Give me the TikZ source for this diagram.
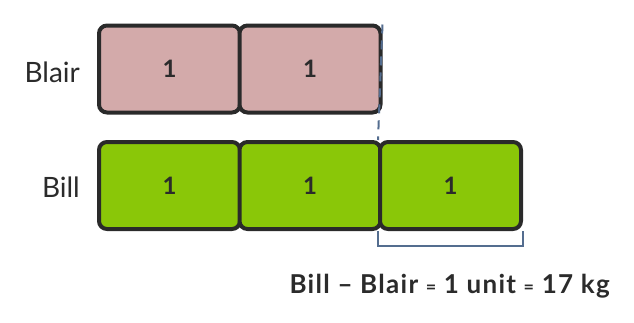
\documentclass[tikz,border=0pt]{standalone}
\usepackage{fontspec}
\setmainfont{Lato}
\begin{document}
\begin{tikzpicture}[x=1pt,y=-1pt,
  unitbox/.style={draw=boxline,line width=4pt,rounded corners=8pt,minimum width=141pt,minimum height=87pt,inner sep=0pt,font=\fontsize{24}{26}\selectfont\bfseries,text=textdark},
  pinkbox/.style={unitbox,fill=pinkfill},
  greenbox/.style={unitbox,fill=greenfill},
  rowlabel/.style={anchor=east,inner sep=0pt,font=\fontsize{28}{30}\selectfont,text=textdark},
  guide/.style={draw=guidecol,line width=2pt}]
\definecolor{boxline}{HTML}{2A2A2A}
\definecolor{pinkfill}{HTML}{D3AAAA}
\definecolor{greenfill}{HTML}{8AC708}
\definecolor{textdark}{HTML}{2B2B2B}
\definecolor{guidecol}{HTML}{546D8F}
\useasboundingbox (0,0) rectangle (634,322);
\node[pinkbox] (a1) at (169.5,69) {1};
\node[pinkbox] (a2) at (310,69) {1};
\node[greenbox] (b1) at (169.5,185.5) {1};
\node[greenbox] (b2) at (310,185.5) {1};
\node[greenbox] (b3) at (450.5,185.5) {1};
\node[rowlabel] (la) at (80,72) {Blair};
\node[rowlabel] (lb) at (80,187) {Bill};
\draw[guide,dash pattern=on 9pt off 7pt] ([yshift=-1pt]a2.north east) -- (b3.north west);
\draw[guide] (b3.south west) -- ++(0,15) -| (b3.south east);
\node[anchor=base east,inner sep=0pt,font=\fontsize{26}{28}\selectfont\bfseries\addfontfeatures{LetterSpace=5},text=textdark] (eq) at (610,293) {Bill – Blair {\fontsize{18}{20}\selectfont=} 1 unit {\fontsize{18}{20}\selectfont=} 17 kg};
\end{tikzpicture}
\end{document}
